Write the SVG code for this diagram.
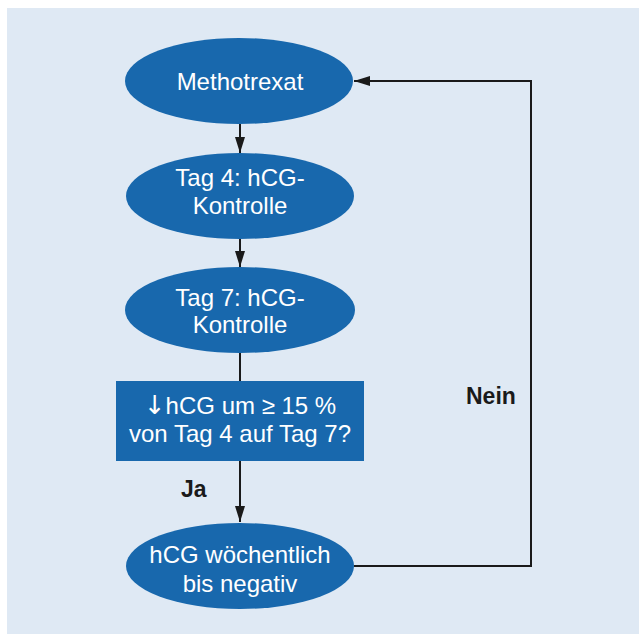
<svg xmlns="http://www.w3.org/2000/svg" width="639" height="634" viewBox="0 0 639 634">
<defs>
<style>
.bg{fill:#dfe9f4}
.node{fill:#1868ad}
.t{font-family:"Liberation Sans",Arial,sans-serif;font-size:24px;fill:#ffffff;text-anchor:middle}
.arr{font-family:"DejaVu Sans",sans-serif;font-size:26px}
.lbl{font-family:"Liberation Sans",Arial,sans-serif;font-size:23px;font-weight:bold;fill:#1a1a1a}
.c{fill:none;stroke:#1a1a1a;stroke-width:2}
</style>
<marker id="ah" markerUnits="userSpaceOnUse" markerWidth="16" markerHeight="10" refX="16" refY="5" orient="auto">
<path d="M0,0 L16,5 L0,10 Z" fill="#1a1a1a"/>
</marker>
</defs>
<rect class="bg" x="7" y="8" width="632" height="626"/>
<g id="connectors">
<line class="c" x1="240" y1="124" x2="240" y2="153" marker-end="url(#ah)"/>
<line class="c" x1="240" y1="239" x2="240" y2="267" marker-end="url(#ah)"/>
<line class="c" x1="240" y1="353" x2="240" y2="381"/>
<line class="c" x1="240" y1="461" x2="240" y2="522" marker-end="url(#ah)"/>
<polyline class="c" points="354,566 531,566 531,81 354,81" marker-end="url(#ah)"/>
<text class="lbl" x="181" y="497">Ja</text>
<text class="lbl" x="466" y="404">Nein</text>
</g>
<g id="n1">
<ellipse class="node" cx="239" cy="81" rx="114" ry="43"/>
<text class="t" x="240" y="90">Methotrexat</text>
</g>
<g id="n2">
<ellipse class="node" cx="240" cy="196" rx="114" ry="43"/>
<text class="t" x="240" y="186">Tag 4: hCG-</text>
<text class="t" x="240" y="214">Kontrolle</text>
</g>
<g id="n3">
<ellipse class="node" cx="240" cy="310" rx="115" ry="43"/>
<text class="t" x="240" y="306">Tag 7: hCG-</text>
<text class="t" x="240" y="333">Kontrolle</text>
</g>
<g id="n4">
<rect class="node" x="116" y="381" width="248" height="80"/>
<text class="t" x="240" y="414"><tspan class="arr">↓</tspan>hCG um ≥ 15 %</text>
<text class="t" x="240" y="442">von Tag 4 auf Tag 7?</text>
</g>
<g id="n5">
<ellipse class="node" cx="240" cy="566" rx="114" ry="43"/>
<text class="t" x="240" y="563">hCG wöchentlich</text>
<text class="t" x="240" y="592">bis negativ</text>
</g>
</svg>
